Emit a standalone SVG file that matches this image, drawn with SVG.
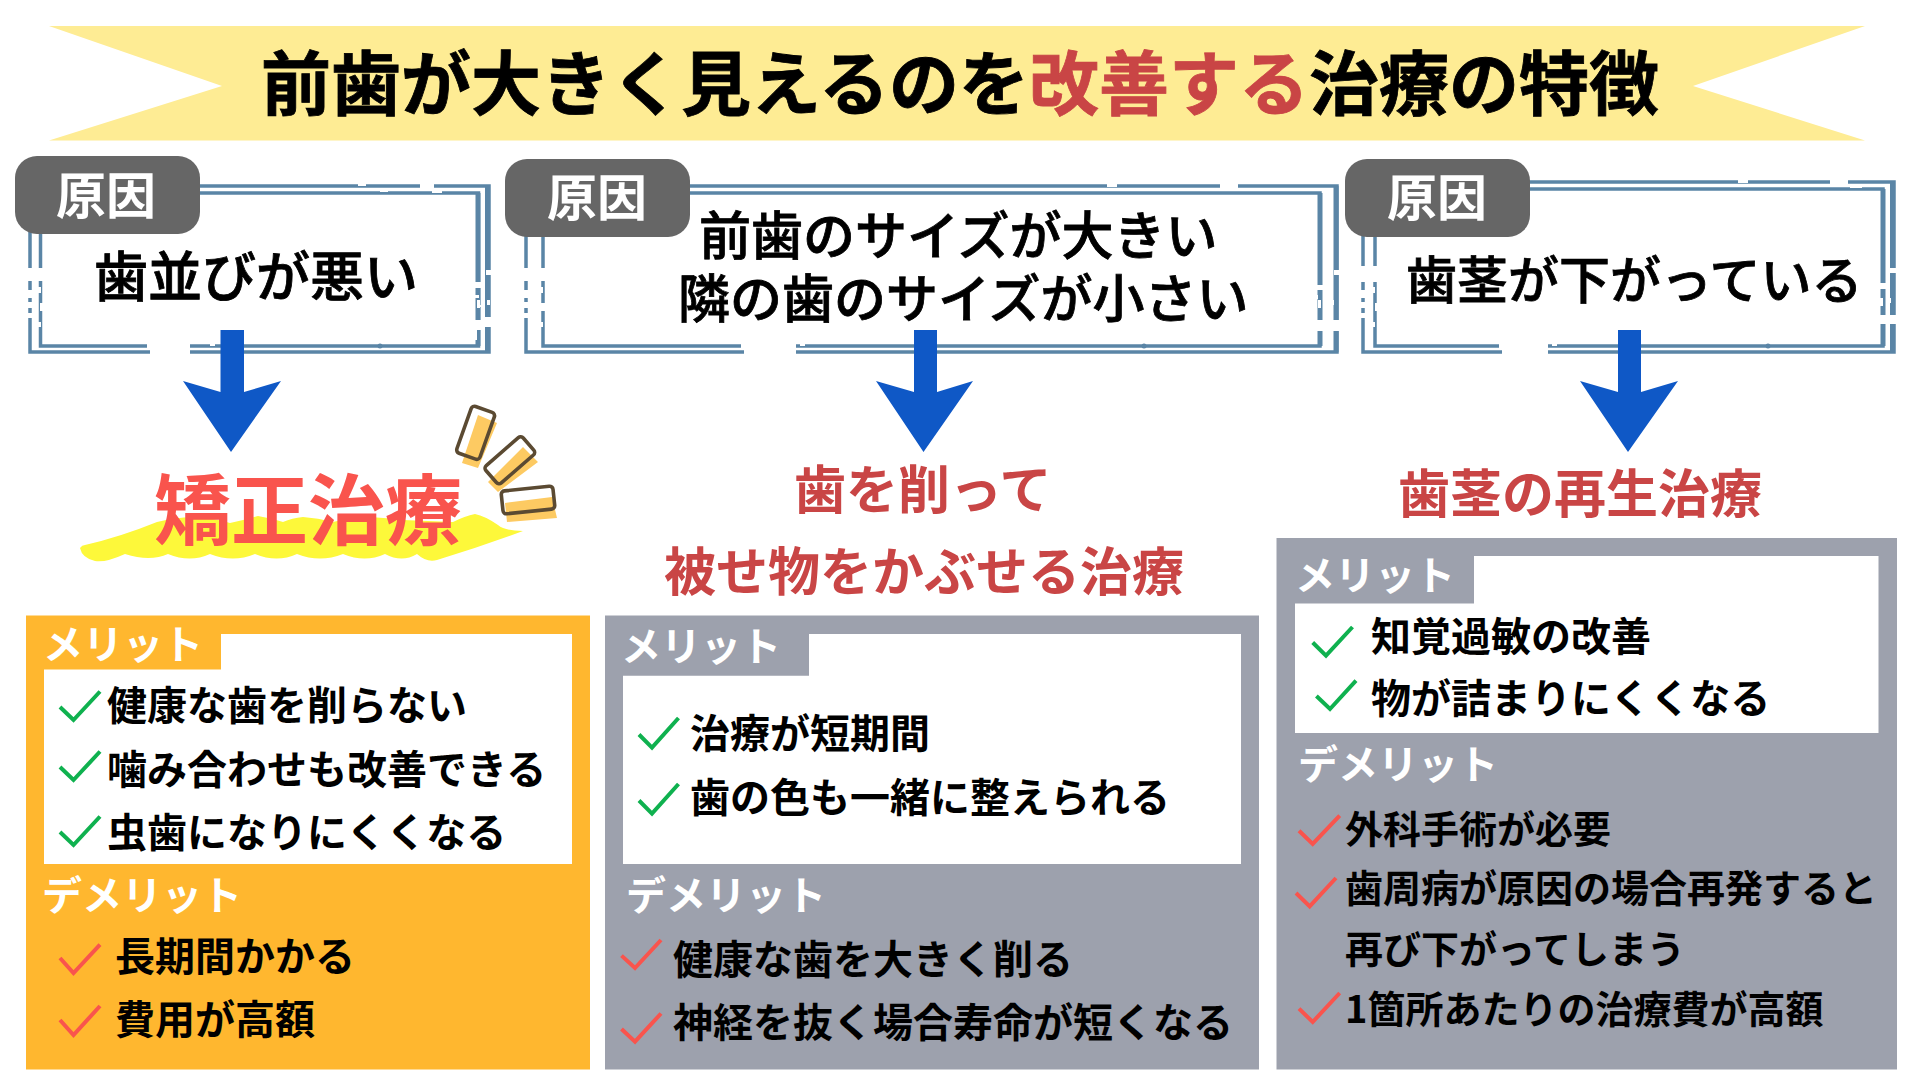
<svg xmlns="http://www.w3.org/2000/svg" width="1920" height="1080" viewBox="0 0 1920 1080">
<style>
text{font-family:"Noto Sans CJK JP","Noto Sans",sans-serif}
.tag{fill:#666}
.tagt{fill:#fff;font-size:50px;font-weight:700}
.fr{fill:none;stroke:#5a85a6;stroke-width:3.500}
.frr{fill:none;stroke:#5a85a6;stroke-width:5}
.w{fill:#fff}
.cause{font-size:52px;font-weight:500;fill:#000;stroke:#000;stroke-width:.8}
.treat{font-size:52px;font-weight:700;fill:#c94545}
.h{fill:#fff;font-size:40px;font-weight:700}
.it{font-size:40px;font-weight:700;fill:#000}
.it3{font-size:38px;font-weight:700;fill:#000}
.g{fill:none;stroke:#0fb14f;stroke-width:4}
.r{fill:none;stroke:#f9544d;stroke-width:4}
.ar{fill:#0f58c6}
.sp{fill:none;stroke:#5b4a32;stroke-width:3.600}
.so{fill:#fdca62}
</style>
<rect width="1920" height="1080" fill="#fff"/>
<g id="title">
<path d="M49 26H1865L1693 86L1865 140.500H49L222 86Z" fill="#feec94"/>
<text x="261" y="110" font-size="70" font-weight="700" stroke="#000" stroke-width=".8">前歯が大きく見えるのを<tspan fill="#c94545" stroke="#c94545">改善する</tspan>治療の特徴</text>
</g>
<g id="cause-1">
<rect x="30" y="186" width="459" height="166" class="fr"/>
<rect x="40.500" y="193" width="438" height="153" class="fr"/>
<path class="frr" d="M478 193V346M487.500 186V352"/>
<path class="w" d="M27 268h17v13H27zM27 290h6v8H27zM38 287h3v6h-3zM27 302h6v6H27zM40 303h4v8h-4zM27 313h6v5H27zM38 322h3v5h-3zM147 343h43v5H147zM150 349h40v5H150zM210 342h5v4h-5zM358 184h8v2h-8zM380 189h8v3h-8zM420 184h14v4H420zM432 191h10v2h-10zM473 282h9v6h-9zM486 270h5v5h-5zM484 317h7v10H484zM473 320h8v10h-8zM477 300h3v8h-3zM487 300h3v5h-3zM475 295h4v3h-4zM480 305h3v2h-3zM475 328h2v12h-2z"/>
<circle cx="380" cy="346" r="2.500" fill="#5a85a6"/>
<rect x="15" y="156" width="185" height="78" rx="22" class="tag"/>
<text x="56" y="214" class="tagt">原因</text>
<text x="94" y="297" class="cause" style="font-size:54px">歯並びが悪い</text>
</g>
<g id="cause-2">
<rect x="526" y="186" width="811" height="166" class="fr"/>
<rect x="543" y="193" width="777" height="153" class="fr"/>
<path class="frr" d="M1320 193V346M1336 186V352"/>
<path class="w" d="M523 268h23v13H523zM523 290h6v8h-6zM540 287h3v6h-3zM523 302h6v6h-6zM541 303h4v8h-4zM523 313h6v5h-6zM540 322h3v5h-3zM741 343h55v5H741zM744 349h52v5H744zM800 342h5v4h-5zM1107 184h10v3h-10zM1220 184h18v4h-18zM1250 188h12v2h-12zM1314 285h10v5h-10zM1334 270h6v5h-6zM1314 320h26v11H1314zM1318 300h3v8h-3zM1331 300h3v5h-3zM1315 295h3v4h-3z"/>
<circle cx="1144" cy="346" r="2.500" fill="#5a85a6"/>
<rect x="505" y="159" width="185" height="78" rx="22" class="tag"/>
<text x="547" y="216" class="tagt">原因</text>
<text x="699" y="255" class="cause">前歯のサイズが大きい</text>
<text x="678" y="318" class="cause">隣の歯のサイズが小さい</text>
</g>
<g id="cause-3">
<rect x="1363" y="182" width="531" height="170" class="fr"/>
<rect x="1375" y="189" width="508" height="157" class="fr"/>
<path class="frr" d="M1883 189V346M1892.500 182V352"/>
<path class="w" d="M1360 266h19v16h-19zM1360 290h6v8h-6zM1372 287h3v6h-3zM1360 302h6v6h-6zM1375 303h4v8h-4zM1360 313h6v5h-6zM1372 322h3v5h-3zM1499 343h49v5h-49zM1502 349h46v5h-46zM1552 342h5v4h-5zM1738 180h10v3h-10zM1830 180h18v4h-18zM1850 186h12v2h-12zM1878 283h8v6h-8zM1890 268h6v5h-6zM1878 315h19v9h-19zM1880 298h3v8h-3zM1888 298h3v5h-3z"/>
<circle cx="1768" cy="346" r="2.500" fill="#5a85a6"/>
<rect x="1345" y="159" width="185" height="78" rx="22" class="tag"/>
<text x="1387" y="216" class="tagt">原因</text>
<text x="1406" y="299" class="cause" style="font-size:51px">歯茎が下がっている</text>
</g>
<g id="connectors">
<path class="ar" d="M220.500 330H244V392L281 381L231 452L183 381L220.500 392Z"/>
<path class="ar" d="M914 330H937V392L973 381L923.500 452L876 381L914 392Z"/>
<path class="ar" d="M1618 330H1641V392L1678 381L1628 452L1580 381L1618 392Z"/>
</g>
<g id="treatment-1">
<path fill="#fdf83a" d="M80 548Q82 545 85 545Q120 537 157 522Q195 512 230 523Q245 520 258 516Q270 518 283 522Q292 518 303 517Q318 518 333 522Q352 517 370 517Q387 518 403 520L453 522Q465 516 475 514Q485 516 498 525Q505 531 523 531Q480 547 437 560Q427 563 417 554Q402 563 385 554Q365 563 343 554Q320 563 297 554Q277 563 255 554Q233 563 210 554Q190 563 168 554Q150 562 125 554Q105 563 95 561Q82 558 80 548Z"/>
<text x="154" y="539" fill="#f9544d" font-size="77" font-weight="700">矯正治療</text>
<path class="so" d="M478 415L497 423L478 468L462 463ZM523 447L538 462L498 492L488 482ZM505 503L552 497L557 518L507 522Z"/>
<g class="sp">
<rect x="-12.300" y="-24.800" width="24.600" height="49.600" rx="3.500" transform="translate(475.600 432.800) rotate(19.600)"/>
<rect x="-11.500" y="-24.800" width="23" height="49.500" rx="3.500" transform="translate(509.800 460.300) rotate(49)"/>
<rect x="-26" y="-11.500" width="52" height="23" rx="3.500" transform="translate(528 500) rotate(-6)"/>
</g>
</g>
<g id="treatment-2">
<text x="794" y="509" class="treat">歯を削って</text>
<text x="664" y="591" class="treat">被せ物をかぶせる治療</text>
</g>
<g id="treatment-3">
<text x="1398" y="513" class="treat">歯茎の再生治療</text>
</g>
<g id="panel-1">
<rect x="26" y="615.500" width="564" height="454" fill="#ffb72f"/>
<path class="w" d="M221 634H572V864H44V669.500H221Z"/>
<text x="43" y="659" class="h">メリット</text>
<polyline class="g" points="60,707 73.500,720 100,691.500"/>
<polyline class="g" points="60,767 73.500,780 100,751.500"/>
<polyline class="g" points="60,832 73.500,845 100,816.500"/>
<text x="107" y="720" class="it">健康な歯を削らない</text>
<text x="107" y="784" class="it">噛み合わせも改善できる</text>
<text x="107" y="847" class="it">虫歯になりにくくなる</text>
<text x="42" y="910" class="h">デメリット</text>
<polyline class="r" points="60,958 73.500,973 100,944.600"/>
<polyline class="r" points="60,1020 73.500,1035 100,1006"/>
<text x="115" y="971" class="it">長期間かかる</text>
<text x="115" y="1034" class="it">費用が高額</text>
</g>
<g id="panel-2">
<rect x="605" y="615.500" width="654" height="454" fill="#9da1ad"/>
<path class="w" d="M809 634H1241V864H623V675.700H809Z"/>
<text x="621" y="661" class="h">メリット</text>
<polyline class="g" points="639,734.500 652,747.600 678.500,718"/>
<polyline class="g" points="639,800.500 652,813.600 678.500,784"/>
<text x="690" y="748" class="it">治療が短期間</text>
<text x="690" y="812" class="it">歯の色も一緒に整えられる</text>
<text x="626" y="910" class="h">デメリット</text>
<polyline class="r" points="621.500,955.600 635,968 661,940"/>
<polyline class="r" points="621.500,1029 635,1041.700 661,1013.500"/>
<text x="673" y="974" class="it">健康な歯を大きく削る</text>
<text x="673" y="1037" class="it">神経を抜く場合寿命が短くなる</text>
</g>
<g id="panel-3">
<rect x="1276.500" y="538" width="620.500" height="531.500" fill="#9da1ad"/>
<path class="w" d="M1474 556H1878.500V733H1295V603.600H1474Z"/>
<text x="1295" y="590" class="h">メリット</text>
<polyline class="g" points="1312.700,642.500 1326,655.700 1352.500,627"/>
<polyline class="g" points="1316.400,696 1330,709 1356,680.700"/>
<text x="1371" y="651" class="it">知覚過敏の改善</text>
<text x="1371" y="713" class="it">物が詰まりにくくなる</text>
<text x="1298" y="779" class="h">デメリット</text>
<polyline class="r" points="1299,830.700 1312.700,844 1339.700,815.700"/>
<polyline class="r" points="1296,893 1309.700,906.400 1336,878"/>
<polyline class="r" points="1299,1008.600 1312.700,1022 1339.700,993"/>
<text x="1345" y="843" class="it3">外科手術が必要</text>
<text x="1345" y="902" class="it3">歯周病が原因の場合再発すると</text>
<text x="1345" y="963" class="it3">再び下がってしまう</text>
<text x="1345" y="1023" class="it3">1箇所あたりの治療費が高額</text>
</g>
</svg>
